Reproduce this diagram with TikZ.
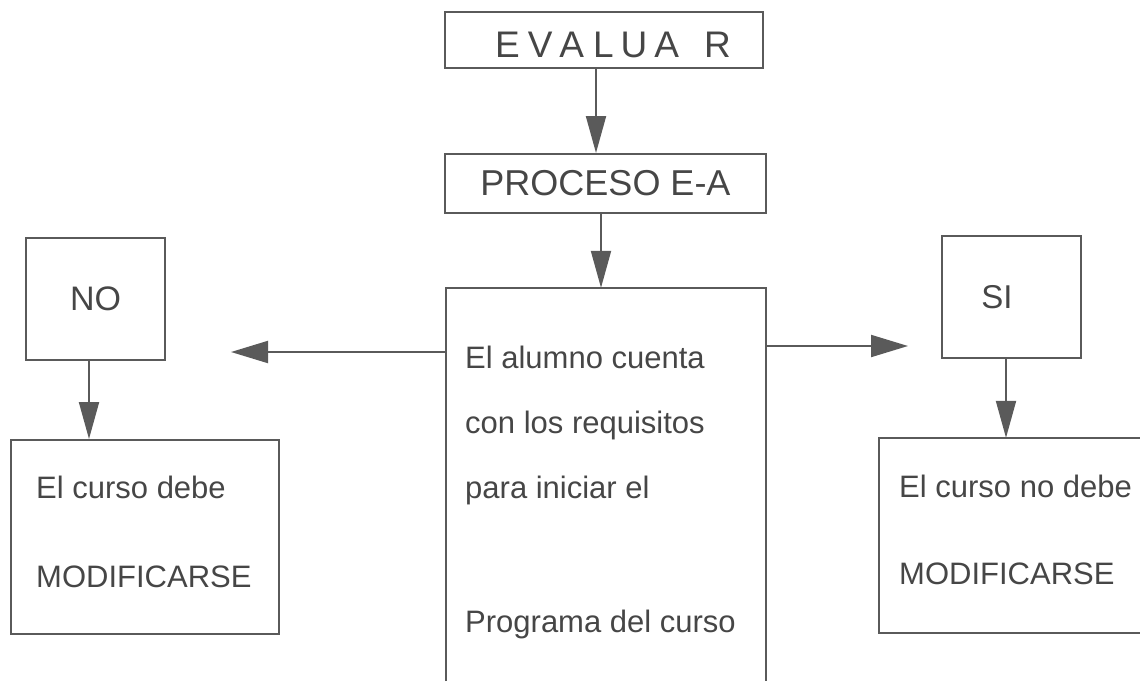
\documentclass[tikz,border=0pt]{standalone}
\usepackage{fontspec}
\setmainfont{Liberation Sans}
\usetikzlibrary{arrows.meta}
\definecolor{ink}{HTML}{5A5A5A}
\definecolor{txt}{HTML}{464646}
\begin{document}
\begin{tikzpicture}[x=1pt,y=-1pt,
  box/.style={draw=ink, line width=2pt, rectangle, inner sep=0pt, text=txt},
  frame/.style={draw=ink, line width=2pt},
  conn/.style={draw=ink, line width=2pt, -{Triangle[length=37pt,width=20pt]}},
  hconn/.style={draw=ink, line width=2pt, -{Triangle[length=37pt,width=22pt]}},
  body/.style={font=\fontsize{31}{37}\selectfont, text=txt, inner sep=0pt, anchor=base west}]
\useasboundingbox (0,0) rectangle (1140,681);

% top chain
\node[box, minimum width=318pt, minimum height=56pt, font=\fontsize{37}{40}\selectfont,
      text height=35pt, text depth=0pt] (evaluar) at (604,40)
  {\hspace*{18pt}E\hspace{8pt}V\hspace{7pt}A\hspace{9pt}L\hspace{7pt}U\hspace{7pt}A\hspace{25pt}R};
\node[box, minimum width=321pt, minimum height=59pt, font=\fontsize{36}{40}\selectfont] (proceso) at (605.5,183.5)
  {PROCESO E-A};

% central box (bottom edge off the page)
\node[minimum width=320pt, minimum height=393pt, inner sep=0pt] (req) at (606,484.5) {};
\draw[frame] (req.south west) -- (req.north west) -- (req.north east) -- (req.south east);
\node[body] (c1) at (465,368) {El alumno cuenta};
\node[body] (c2) at (465,433) {con los requisitos};
\node[body] (c3) at (465,498) {para iniciar el};
\node[body] (c4) at (465,632) {Programa del curso};

% left branch
\node[box, minimum width=139pt, minimum height=122pt, font=\fontsize{34}{40}\selectfont] (no) at (95.5,299) {NO};
\node[box, minimum width=268pt, minimum height=194pt] (nobox) at (145,537) {};
\node[body] (l1) at (36,498) {El curso debe};
\node[body] (l2) at (36,587) {MODIFICARSE};

% right branch
\node[box, minimum width=139pt, minimum height=122pt, font=\fontsize{33}{40}\selectfont] (si) at (1011.5,297) {SI\hspace*{29pt}};
\node[minimum width=261pt, minimum height=195pt, inner sep=0pt] (sibox) at (1009.5,535.5) {};
\draw[frame] (sibox.north east) -- (sibox.north west) -- (sibox.south west) -- (sibox.south east);
\node[body] (r1) at (899,497) {El curso no debe};
\node[body] (r2) at (899,584) {MODIFICARSE};

% connectors
\coordinate (e1) at ([xshift=-8pt]evaluar.south);
\draw[conn] (e1) -- (e1 |- proceso.north);
\coordinate (p1) at ([xshift=-4.5pt]proceso.south);
\draw[conn] (p1) -- (p1 |- req.north);
\coordinate (lt) at (231,352);
\draw[hconn] (req.west |- lt) -- (lt);
\coordinate (rt) at (908,346);
\draw[hconn] (req.east |- rt) -- (rt);
\coordinate (n1) at ([xshift=-6.5pt]no.south);
\draw[conn] (n1) -- (n1 |- nobox.north);
\coordinate (s1) at ([xshift=-5.5pt]si.south);
\draw[conn] (s1) -- (s1 |- sibox.north);
\end{tikzpicture}
\end{document}
